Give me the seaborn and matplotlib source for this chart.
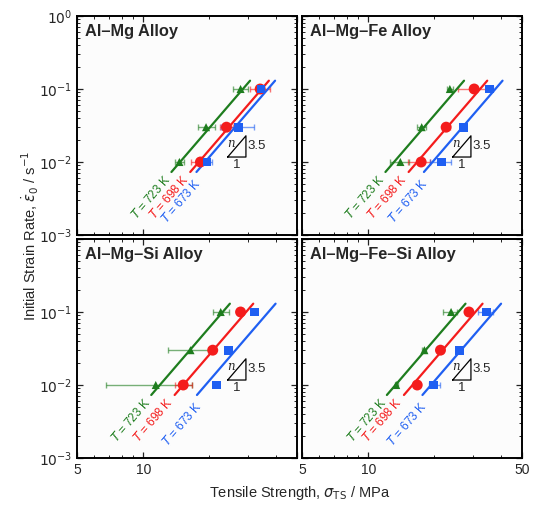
import numpy as np
import pandas as pd
import matplotlib
matplotlib.use("Agg")
import matplotlib.pyplot as plt
import seaborn as sns

# strain rates tested (s^-1)
rates = [0.01, 0.03, 0.1]
temps = ["723", "698", "673"]
alloys = ["Al\u2013Mg Alloy", "Al\u2013Mg\u2013Fe Alloy",
          "Al\u2013Mg\u2013Si Alloy", "Al\u2013Mg\u2013Fe\u2013Si Alloy"]

# tensile strength (MPa), per alloy, per temperature: value, error low, error high
almg_723 = [14.6, 19.3, 27.7]
almg_723_lo = [14.0, 17.7, 25.5]
almg_723_hi = [15.4, 21.1, 30.0]
almg_698 = [18.2, 23.9, 34.0]
almg_698_lo = [16.5, 22.3, 30.5]
almg_698_hi = [18.9, 25.5, 37.6]
almg_673 = [19.5, 27.0, 34.3]
almg_673_lo = [18.5, 22.5, 33.5]
almg_673_hi = [20.5, 31.8, 35.5]

almgfe_723 = [14.0, 17.5, 23.5]
almgfe_723_lo = [12.5, 16.7, 22.9]
almgfe_723_hi = [15.3, 18.4, 24.2]
almgfe_698 = [17.4, 22.6, 30.3]
almgfe_698_lo = [15.2, 21.6, 25.5]
almgfe_698_hi = [19.1, 23.6, 34.6]
almgfe_673 = [21.6, 27.0, 35.5]
almgfe_673_lo = [19.1, 26.5, 34.3]
almgfe_673_hi = [23.9, 27.5, 37.0]

almgsi_723 = [11.4, 16.4, 22.5]
almgsi_723_lo = [6.8, 12.9, 20.8]
almgsi_723_hi = [16.7, 19.7, 24.5]
almgsi_698 = [15.2, 20.7, 27.7]
almgsi_698_lo = [14.0, 20.3, 27.3]
almgsi_698_hi = [16.7, 21.1, 28.1]
almgsi_673 = [21.5, 24.5, 32.1]
almgsi_673_lo = [21.2, 24.2, 31.4]
almgsi_673_hi = [21.8, 24.8, 32.8]

almgfesi_723 = [13.4, 18.0, 23.8]
almgfesi_723_lo = [13.2, 17.6, 21.9]
almgfesi_723_hi = [13.6, 18.4, 25.2]
almgfesi_698 = [16.7, 21.3, 28.7]
almgfesi_698_lo = [16.5, 21.0, 28.3]
almgfesi_698_hi = [16.9, 21.6, 29.1]
almgfesi_673 = [19.8, 25.9, 34.6]
almgfesi_673_lo = [18.9, 25.5, 31.6]
almgfesi_673_hi = [21.3, 26.3, 37.0]

# model lines: strength at 0.01 s^-1 for each alloy (723, 698, 673 K)
line_almg = [14.7, 17.9, 19.1]
line_almgfe = [13.1, 16.7, 19.6]
line_almgsi = [11.9, 15.2, 19.2]
line_almgfesi = [13.3, 15.9, 19.3]
stress_exp = 3.5
line_rate_min = 0.0073
line_rate_max = 0.13

# slope triangle
tri_x0, tri_x1, tri_y0 = 24.2, 29.3, 0.0117


def build_df():
    sets = [
        [(almg_723, almg_723_lo, almg_723_hi), (almg_698, almg_698_lo, almg_698_hi),
         (almg_673, almg_673_lo, almg_673_hi)],
        [(almgfe_723, almgfe_723_lo, almgfe_723_hi), (almgfe_698, almgfe_698_lo, almgfe_698_hi),
         (almgfe_673, almgfe_673_lo, almgfe_673_hi)],
        [(almgsi_723, almgsi_723_lo, almgsi_723_hi), (almgsi_698, almgsi_698_lo, almgsi_698_hi),
         (almgsi_673, almgsi_673_lo, almgsi_673_hi)],
        [(almgfesi_723, almgfesi_723_lo, almgfesi_723_hi), (almgfesi_698, almgfesi_698_lo, almgfesi_698_hi),
         (almgfesi_673, almgfesi_673_lo, almgfesi_673_hi)],
    ]
    rows = []
    for var_alloy, var_set in zip(alloys, sets):
        for var_temp, (val, lo, hi) in zip(temps, var_set):
            for var_rate, v, l, h in zip(rates, val, lo, hi):
                rows.append([var_alloy, var_temp, var_rate, v, l, h])
    return pd.DataFrame(rows, columns=["alloy", "temp", "rate", "sigma", "lo", "hi"])


def build_lines():
    rows = []
    for var_alloy, var_line in zip(alloys, [line_almg, line_almgfe, line_almgsi, line_almgfesi]):
        for var_temp, s01 in zip(temps, var_line):
            for var_rate in [line_rate_min, line_rate_max]:
                s = s01 * (var_rate / 0.01) ** (1 / stress_exp)
                rows.append([var_alloy, var_temp, var_rate, s])
    return pd.DataFrame(rows, columns=["alloy", "temp", "rate", "sigma"])


df = build_df()
df_line = build_lines()

sns.set_style("ticks")
plt.rcParams["font.family"] = ["Liberation Sans", "DejaVu Sans"]
plt.rcParams["mathtext.fontset"] = "dejavusans"

colors = {"723": "#1e7d1e", "698": "#f41c1c", "673": "#1f5ff2"}
markers = {"723": "^", "698": "o", "673": "s"}
msizes = {"723": 34, "698": 62, "673": 40}
label_offsets = {"723": (-2, -3.5), "698": (-3, -3.5), "673": (1.5, -6.5)}

fig = plt.figure(figsize=(5.35, 5.08), dpi=100)
W, H = 535, 508
positions = [(77, 15), (302, 15), (77, 238), (302, 238)]
axs = []
for (px, py) in positions:
    ax = fig.add_axes([px / W, 1 - (py + 220) / H, 220 / W, 219 / H])
    axs.append(ax)

for i, (ax, var_alloy) in enumerate(zip(axs, alloys)):
    ax.set_facecolor("#fcfcfc")
    ax.set_xscale("log")
    ax.set_yscale("log")
    ax.set_xlim(5, 50)
    ax.set_ylim(1e-3, 1)
    sub = df[df["alloy"] == var_alloy]
    sub_line = df_line[df_line["alloy"] == var_alloy]
    for var_temp in temps:
        d = sub[sub["temp"] == var_temp]
        ax.errorbar(d["sigma"], d["rate"],
                    xerr=[d["sigma"] - d["lo"], d["hi"] - d["sigma"]],
                    fmt="none", ecolor=colors[var_temp], alpha=0.6,
                    elinewidth=1.0, capsize=2.2, capthick=1.0, zorder=2)
    sns.lineplot(data=sub_line, x="sigma", y="rate", hue="temp", palette=colors,
                 units="temp", estimator=None, linewidth=1.6, legend=False, ax=ax,
                 sort=False, zorder=3)
    for var_temp in temps:
        d = sub[sub["temp"] == var_temp]
        sns.scatterplot(data=d, x="sigma", y="rate", color=colors[var_temp],
                        marker=markers[var_temp], s=msizes[var_temp],
                        edgecolor="none", legend=False, ax=ax, zorder=4)

    # temperature labels along the lines
    for var_temp in temps:
        ld = sub_line[sub_line["temp"] == var_temp]
        x0, y0 = ld["sigma"].iloc[0], ld["rate"].iloc[0]
        x1, y1 = ld["sigma"].iloc[1], ld["rate"].iloc[1]
        p0 = ax.transData.transform((x0, y0))
        p1 = ax.transData.transform((x1, y1))
        ang = np.degrees(np.arctan2(p1[1] - p0[1], p1[0] - p0[0]))
        ax.annotate(r"$T$ = " + var_temp + " K", xy=(x0, y0), xytext=label_offsets[var_temp],
                    textcoords="offset points", rotation=ang, rotation_mode="anchor",
                    ha="right", va="center", color=colors[var_temp], fontsize=8.5)

    # slope triangle
    tri_y1 = tri_y0 * (tri_x1 / tri_x0) ** stress_exp
    ax.plot([tri_x0, tri_x1, tri_x1, tri_x0], [tri_y0, tri_y0, tri_y1, tri_y0],
            color="black", linewidth=0.9, zorder=3)
    ax.text(tri_x1 * 1.012, np.sqrt(tri_y0 * tri_y1), "3.5", fontsize=9.5,
            ha="left", va="center")
    ax.text(np.sqrt(tri_x0 * tri_x1), tri_y0 * 0.93, "1", fontsize=9.5,
            ha="center", va="top")
    ax.text(tri_x0 * (tri_x1 / tri_x0) ** 0.2, tri_y0 * (tri_y1 / tri_y0) ** 0.66, "n",
            fontsize=8.5, style="italic", family="DejaVu Serif", ha="center", va="center")

    ax.text(0.035, 0.965, var_alloy, transform=ax.transAxes, fontsize=11.8,
            fontweight="bold", ha="left", va="top")

    ax.set_xticks([5, 10, 50])
    ax.set_xticks([6, 7, 8, 9, 20, 30, 40], minor=True)
    ax.set_yticks([1e-3, 1e-2, 1e-1, 1])
    ax.tick_params(which="both", direction="in", top=True, right=True, labelsize=10,
                   color="#222222")
    ax.tick_params(which="major", length=4.5, width=0.9)
    ax.tick_params(which="minor", length=2.5, width=0.7)
    for s in ax.spines.values():
        s.set_linewidth(1.4)
        s.set_color("black")
    ax.set_xlabel("")
    ax.set_ylabel("")
    if i < 2:
        ax.set_xticklabels([])
    elif i == 2:
        ax.set_xticklabels(["5", "10", ""])
    else:
        ax.set_xticklabels(["5", "10", "50"])
    if i % 2 == 1:
        ax.set_yticklabels([])
    elif i == 2:
        ax.set_yticklabels([r"$10^{-3}$", r"$10^{-2}$", r"$10^{-1}$", ""])
    else:
        ax.set_yticklabels([r"$10^{-3}$", r"$10^{-2}$", r"$10^{-1}$", r"$10^{0}$"])
    ax.tick_params(axis="x", which="minor", labelbottom=False)
    ax.tick_params(axis="y", which="minor", labelleft=False)

fig.text((77 + 522) / 2 / W, 1 - 493 / H, r"Tensile Strength, $\sigma_{\mathrm{TS}}$ / MPa",
         ha="center", va="center", fontsize=10.5)
fig.text(30 / W, 1 - 236 / H, r"Initial Strain Rate, $\dot{\varepsilon}_0$ / s$^{-1}$",
         ha="center", va="center", rotation=90, fontsize=10.5)

fig.savefig("out.png", dpi=100)
